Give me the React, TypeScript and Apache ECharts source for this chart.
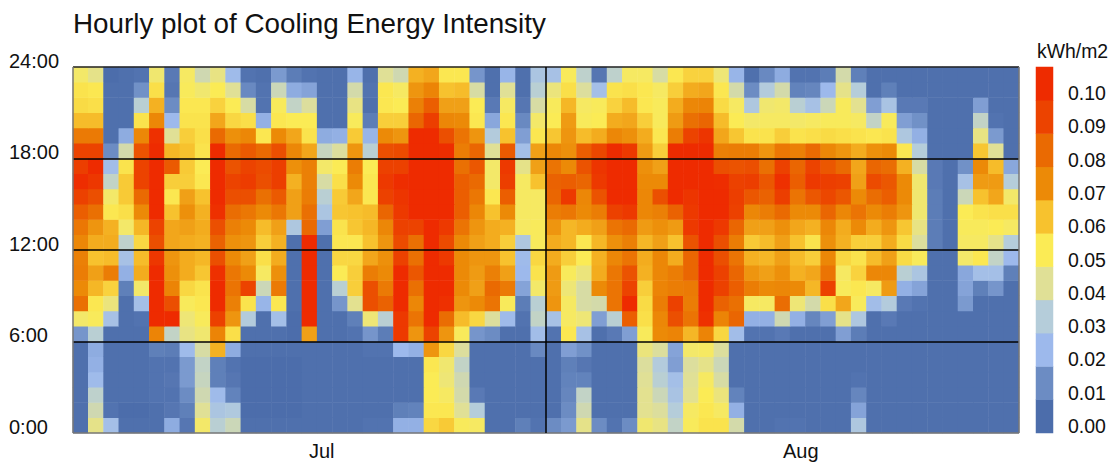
import React, { useEffect, useRef } from "react";
import * as echarts from "echarts";

// Cooling energy intensity in 0.001 kWh/m2, one list per hour of the day, Jul 1 .. Aug 31
const h00 = [1,42,23,1,1,1,17,3,47,31,35,1,1,1,1,1, 1,1,1,2,2,18,18,55,58,49,48,1,1,6,2, 10,13,42,10,2,10,46,43,33,49,52,52,37,1,1,2, 2,1,1,1,27,1,1,1,1,1,1,1,1,1,1];
const h01 = [1,36,2,0,0,1,3,6,40,26,28,0,0,0,0,1, 1,1,1,1,1,6,7,51,51,40,30,1,1,1,1, 1,10,36,1,1,1,41,39,30,48,51,48,18,1,1,1, 1,1,1,1,15,1,1,1,1,1,1,1,1,1,1];
const h02 = [1,32,1,1,1,2,2,10,36,21,7,0,0,0,0,1, 1,1,1,1,1,1,1,50,48,37,4,1,1,1,1, 1,8,33,1,1,1,41,35,25,41,50,44,7,1,1,1, 1,1,1,1,8,1,1,1,1,1,1,1,1,1,1];
const h03 = [1,21,1,1,1,2,3,13,34,6,3,0,0,0,0,1, 1,1,1,1,1,1,1,50,45,36,1,1,1,1,1, 1,7,7,1,1,1,40,31,23,40,48,38,1,1,1,1, 1,1,1,1,2,1,1,1,1,1,1,1,1,1,1];
const h04 = [1,18,1,1,1,2,2,13,33,6,2,0,0,0,0,1, 1,1,1,1,1,1,1,51,46,33,1,1,1,1,1, 1,6,3,1,1,1,39,29,14,39,42,35,1,1,1,1, 1,1,1,1,1,1,1,1,1,1,1,1,1,1,1];
const h05 = [1,17,1,1,1,6,5,21,38,63,17,1,1,1,1,1, 1,1,1,2,2,20,18,68,55,39,1,1,1,1,9, 1,14,11,1,1,1,44,39,15,47,48,39,1,1,1,1, 1,1,1,1,1,1,1,1,1,1,1,1,1,1,1];
const h06 = [12,31,1,1,1,72,33,43,46,72,53,1,1,1,0,66, 1,1,2,12,5,94,68,90,68,49,12,10,1,1,22, 2,51,24,1,4,14,49,70,72,62,72,55,22,2,2,4, 1,1,1,14,5,1,1,1,1,1,1,1,1,1,1];
const h07 = [47,49,24,1,2,102,102,45,49,91,68,29,1,23,0,102, 1,1,6,45,31,94,77,102,79,61,55,39,21,2,33, 24,48,45,14,31,83,53,71,87,77,98,72,81,18,18,36, 18,8,14,42,27,1,4,1,1,1,1,1,1,1,1];
const h08 = [78,51,44,1,23,102,87,49,51,102,73,52,19,51,1,102, 1,12,41,87,82,102,71,102,98,68,70,77,49,5,31, 68,48,38,37,77,102,54,74,91,74,102,82,78,48,48,79, 45,37,53,65,49,22,29,4,2,1,1,13,1,1,1];
const h09 = [70,62,56,6,47,102,72,55,52,102,77,90,35,75,1,102, 1,31,57,87,75,102,78,102,102,70,66,80,75,15,47, 67,45,38,70,77,90,57,72,74,75,102,91,83,74,70,71, 70,62,91,49,51,48,67,18,15,1,1,15,6,12,1];
const h10 = [74,66,74,18,64,102,69,64,59,98,76,70,48,69,1,102, 1,50,57,74,70,100,85,102,102,70,67,73,66,20,52, 67,49,44,64,76,86,63,71,74,81,102,91,81,68,66,69, 63,65,77,48,56,71,71,31,26,1,1,16,23,23,6];
const h11 = [73,60,61,24,61,95,68,64,62,87,70,66,53,64,1,102, 1,55,55,65,69,91,78,102,94,70,68,68,60,21,55, 64,57,50,63,71,77,64,71,64,81,102,87,77,63,62,66, 61,57,71,55,52,61,66,54,49,1,1,47,51,33,20];
const h12 = [71,64,64,32,55,87,65,64,63,82,69,68,57,63,1,102, 1,51,51,60,68,88,78,102,88,70,66,64,57,27,49, 64,62,51,62,69,73,62,66,60,86,102,87,74,58,61,66, 60,52,69,63,57,57,64,54,39,5,1,48,48,42,30];
const h13 = [76,68,63,47,62,90,65,66,64,87,73,70,61,66,27,80, 14,52,59,62,71,91,90,102,94,77,68,64,63,48,49, 68,62,64,66,77,80,67,69,67,94,102,94,81,66,66,69, 65,63,71,64,70,64,68,59,43,5,1,49,49,50,48];
const h14 = [83,78,51,53,70,102,60,69,63,98,79,76,70,76,66,78, 26,59,60,61,81,94,102,102,102,83,71,60,70,48,48, 74,76,70,74,91,94,71,73,82,94,102,102,91,71,74,80, 70,70,81,71,77,70,74,68,46,5,1,50,52,53,53];
const h15 = [91,87,47,58,80,102,51,66,60,102,87,87,78,84,66,74, 31,58,65,51,91,96,102,102,102,83,76,51,83,48,48, 81,94,71,86,102,102,71,87,102,96,102,102,92,85,82,92, 77,85,89,85,70,79,83,70,46,5,1,35,60,65,47];
const h16 = [99,95,33,58,90,102,57,57,51,102,90,93,87,92,63,73, 38,53,70,51,94,99,102,102,102,83,80,47,92,48,60, 82,83,81,94,102,102,70,70,102,102,102,99,91,92,85,98, 83,94,92,91,66,88,85,70,46,4,1,24,67,67,30];
const h17 = [92,102,22,52,90,102,84,58,50,102,86,90,88,92,69,73, 47,50,74,50,91,91,102,100,102,78,85,47,94,42,66, 77,70,86,96,102,102,69,66,102,102,102,87,86,87,78,91, 81,90,85,80,65,81,79,63,38,4,1,11,70,61,16];
const h18 = [90,90,10,37,86,102,62,60,52,100,80,84,80,87,71,65, 34,39,68,31,87,88,102,102,99,74,81,40,84,23,66, 71,69,83,89,102,94,67,57,101,102,102,73,74,74,68,76, 73,80,71,68,64,69,70,51,30,1,1,1,59,40,1];
const h19 = [75,75,1,17,71,98,40,57,53,80,69,71,51,70,65,52, 17,18,58,19,70,68,102,102,87,77,68,29,60,14,51, 59,68,61,64,71,69,64,51,74,90,96,65,59,52,52,57, 52,53,54,53,52,51,52,27,18,1,1,1,43,13,1];
const h20 = [61,61,1,1,52,71,20,52,52,65,55,53,18,51,50,50, 1,1,49,5,57,57,81,92,71,70,51,16,51,9,47, 50,67,49,50,64,65,57,49,67,78,81,61,50,47,48,48, 47,48,49,49,48,33,49,14,11,1,1,1,33,2,1];
const h21 = [54,53,1,1,31,63,10,51,51,56,50,38,2,49,33,39, 1,1,43,1,51,50,73,83,66,66,50,4,48,3,38, 49,62,48,49,56,61,51,49,64,71,72,54,48,27,46,47, 31,24,35,49,41,14,25,4,4,1,1,1,14,1,1];
const h22 = [52,51,1,1,11,53,3,49,46,50,40,9,2,35,17,15, 1,1,37,2,51,48,68,72,60,61,38,1,40,1,31, 44,53,39,23,52,53,51,48,57,64,65,51,37,10,29,37, 7,8,20,42,30,1,6,1,1,1,1,1,1,1,1];
const h23 = [47,42,0,1,2,46,4,48,36,43,21,2,1,13,5,2, 1,1,19,1,40,36,63,65,51,51,12,1,19,1,26, 24,49,32,3,32,48,48,38,51,56,56,45,19,1,9,17, 2,2,5,37,6,1,1,1,1,1,1,1,1,1,1];
const hourly = [h00,h01,h02,h03,h04,h05,h06,h07,h08,h09,h10,h11,h12,h13,h14,h15,h16,h17,h18,h19,h20,h21,h22,h23];

const dayCount = 62;
const days = Array.from({ length: dayCount }, (_, i) => String(i + 1));
const hours = Array.from({ length: 24 }, (_, i) => String(i));
const legendTicks = ["0.00","0.01","0.02","0.03","0.04","0.05","0.06","0.07","0.08","0.09","0.10"];
const palette = ["#4C6DAB","#6C8CC3","#9DB9EC","#B5CDDA","#E0E096","#FBEB55","#F7C22E","#EC8A07","#EA6A02","#EC4300","#EE2B00"];
const months = ["Jul","Aug"];
const monthLabelAt = [16.3, 47.7];
const FONT = '"Liberation Sans", Arial, sans-serif';

const cells: number[][] = [];
hourly.forEach((row, h) => row.forEach((v, d) => cells.push([d, h, v / 1000])));
const legendCells = legendTicks.map((t, i) => [0, i, Number(t)]);

export default function App() {
  const ref = useRef<HTMLDivElement>(null);
  useEffect(() => {
    document.body.style.margin = "0";
    const chart = echarts.init(ref.current!, undefined, { renderer: "svg" });
    chart.setOption({
      animation: false,
      backgroundColor: "#fff",
      textStyle: { fontFamily: FONT },
      title: [
        { text: "Hourly plot of Cooling Energy Intensity", left: 73, top: 9, padding: 0,
          textStyle: { fontFamily: FONT, fontSize: 27.8, fontWeight: "normal", color: "#111" } },
        { text: "kWh/m2", left: 1037, top: 41, padding: 0,
          textStyle: { fontFamily: FONT, fontSize: 19.4, fontWeight: "normal", color: "#111" } },
      ],
      grid: [
        { left: 73, top: 67, width: 946, height: 366 },
        { left: 1036, top: 67, width: 17, height: 366 },
      ],
      xAxis: [
        { type: "category", gridIndex: 0, data: days, show: false },
        {
          type: "value", gridIndex: 0, min: 0, max: dayCount, interval: 31, position: "bottom", z: 5,
          axisLine: { show: false }, axisTick: { show: false },
          axisLabel: {
            customValues: monthLabelAt, margin: 8, fontSize: 20, color: "#111",
            formatter: (v: number) => months[monthLabelAt.indexOf(v)] ?? "",
          },
          splitLine: { show: true, showMinLine: true, showMaxLine: true, lineStyle: { color: ["#777", "#000", "#777"], width: 1.5 } },
        },
        { type: "category", gridIndex: 1, data: ["bar"], show: false },
      ],
      yAxis: [
        { type: "category", gridIndex: 0, data: hours, show: false },
        {
          type: "value", gridIndex: 0, min: 0, max: 24, interval: 6, position: "left", z: 5,
          axisLine: { show: false }, axisTick: { show: false },
          axisLabel: {
            align: "left", margin: 64, fontSize: 20, color: "#111", verticalAlign: "bottom", lineHeight: 13,
            formatter: (v: number) => `${v}:00`,
          },
          splitLine: { show: true, showMinLine: true, showMaxLine: true, lineStyle: { color: ["#777", "#000", "#000", "#000", "#222"], width: 1.5 } },
        },
        {
          type: "category", gridIndex: 1, data: legendTicks, position: "right",
          axisLine: { show: false }, axisTick: { show: false }, splitLine: { show: false },
          axisLabel: { margin: 15, fontSize: 19.5, color: "#111", verticalAlign: "top", lineHeight: 19 },
        },
      ],
      visualMap: {
        type: "continuous", show: false, min: 0, max: 0.1, dimension: 2, seriesIndex: [0, 1],
        inRange: { color: palette },
      },
      series: [
        { type: "heatmap", xAxisIndex: 0, yAxisIndex: 0, data: cells, progressive: 0, emphasis: { disabled: true } },
        { type: "heatmap", xAxisIndex: 2, yAxisIndex: 2, data: legendCells, progressive: 0, emphasis: { disabled: true } },
      ],
    });
    return () => chart.dispose();
  }, []);
  return <div ref={ref} style={{ width: 1120, height: 464 }} />;
}
